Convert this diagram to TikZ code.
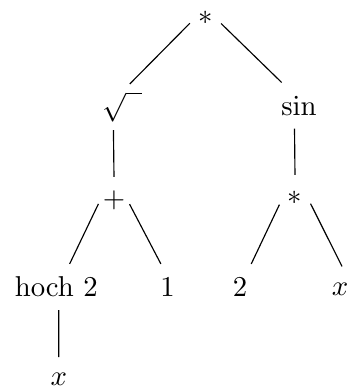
\documentclass[tikz,border=0pt]{standalone}
\usepackage{amsmath}
\usepackage{tikz}

\begin{document}
\begin{tikzpicture}[
    x=0.348pt, y=-0.348pt,
    tn/.style={inner sep=0pt, minimum width=10.44pt, minimum height=15.66pt}
]
\useasboundingbox (0,0) rectangle (358,387);

% operators
\node[tn, minimum height=4.5pt] (root) at (205.5,17.5) {$*$};
\node[tn] (sq) at (122.3,107) {$\sqrt{\phantom{x}}$};
\node[tn] (sin) at (299,105.5) {$\sin$};
\node[tn] (plus) at (114,200) {$+$};
\node[tn] (star) at (295,198) {$*$};

% leaves
\node[tn] (hoch) at (56.3,287) {hoch 2};
\node[tn] (one) at (167.5,287) {1};
\node[tn] (two) at (240,287) {2};
\node[tn] (xr) at (340,289.5) {$x$};
\node[inner sep=0pt, text height=9.7pt, text depth=0pt, anchor=base] (xb) at (58.8,385.5) {$x$};

% edges
\draw (root.200.8) -- (sq.72.7);
\draw (root.339.2) -- (sin.127.6);
\draw (sq.249.8) -- (plus.north);
\draw (sin.259.9) -- (star.north);
\draw (plus.194.9) -- (hoch.60);
\draw (plus.345.1) -- (one.106.8);
\draw (star.203.2) -- (two.64.6);
\draw (star.340.2) -- (xr.85.7);
\draw (hoch.276.3) -- (xb.north);
\end{tikzpicture}
\end{document}
